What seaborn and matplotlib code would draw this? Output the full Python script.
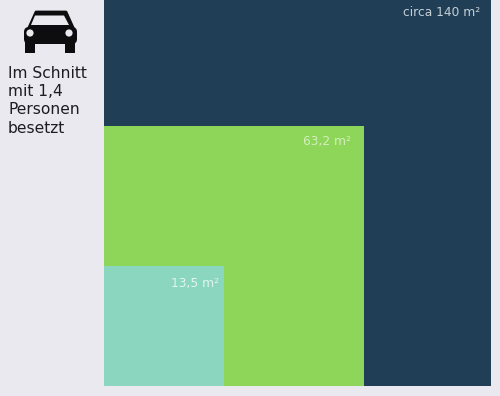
import numpy as np
import pandas as pd
import seaborn as sns
import matplotlib
matplotlib.use("Agg")
import matplotlib.pyplot as plt
from matplotlib.patches import Circle, FancyBboxPatch, Polygon, Rectangle

# Floor space per transport mode, in square metres
labels = ["circa 140 m²", "63,2 m²", "13,5 m²"]
areas = [140.0, 63.2, 13.5]
colors = ["#203F56", "#8ED65A", "#8BD6BF"]
note_lines = ["Im Schnitt", "mit 1,4", "Personen", "besetzt"]

# Label inset from each square's top right corner, in pixels
label_inset_x = [11, 13, 5]
label_inset_y = [14, 16, 18]
label_alpha = [0.75, 0.6, 0.75]

BG = "#E9E9EF"
W, H = 500, 396

sns.set_theme(style="white", rc={"figure.facecolor": BG, "axes.facecolor": BG})
plt.rcParams["font.family"] = ["DejaVu Sans"]

fig = plt.figure(figsize=(W / 100, H / 100), dpi=100)
ax = fig.add_axes([104 / W, (H - 386) / H, 387 / W, 386 / H])

# Each square has a side of sqrt(area), so its area on screen is to scale
table = pd.DataFrame({"label": labels, "area": areas, "color": colors})
table["side"] = np.sqrt(table["area"])
side_max = table["side"].max()
px = side_max / 387

for i, row in enumerate(table.itertuples()):
    sns.histplot(x=[0.0], weights=[row.side], bins=[0.0, row.side], color=row.color,
                 alpha=1, linewidth=0, ax=ax)
    ax.text(row.side - label_inset_x[i] * px, row.side - label_inset_y[i] * px, row.label,
            color="white", alpha=label_alpha[i], fontsize=8.8, ha="right", va="center", zorder=5)

ax.set_xlim(0, side_max)
ax.set_ylim(0, side_max * 386 / 387)
ax.set_xlabel("")
ax.set_ylabel("")
ax.set_xticks([])
ax.set_yticks([])
sns.despine(ax=ax, left=True, bottom=True)

# Side panel in pixel coordinates: car icon and occupancy note
panel = fig.add_axes([0, 0, 1, 1], facecolor="none")
panel.set_xlim(0, W)
panel.set_ylim(H, 0)
panel.axis("off")

ink = "#0D0D10"
panel.add_patch(Polygon([[27, 32], [36, 12], [66, 12], [75, 32]], closed=True, fc=ink, ec=ink, lw=2, joinstyle="round"))
panel.add_patch(FancyBboxPatch((24, 27), 53, 17, boxstyle="round,pad=0,rounding_size=5", fc=ink, ec="none"))
panel.add_patch(Polygon([[31, 25], [35, 15.5], [64, 15.5], [69, 25]], closed=True, fc=BG, ec="none"))
panel.add_patch(Rectangle((25, 42), 10, 10.5, fc=ink, ec="none"))
panel.add_patch(Rectangle((65, 42), 10, 10.5, fc=ink, ec="none"))
panel.add_patch(Circle((30, 33), 3.6, fc=BG, ec="none"))
panel.add_patch(Circle((69, 33), 3.6, fc=BG, ec="none"))

for i, line in enumerate(note_lines):
    panel.text(8, 73 + i * 18.5, line, fontsize=11.2, color="#1C1C22", va="center", ha="left")

fig.savefig("out.png", dpi=100, facecolor=BG)
